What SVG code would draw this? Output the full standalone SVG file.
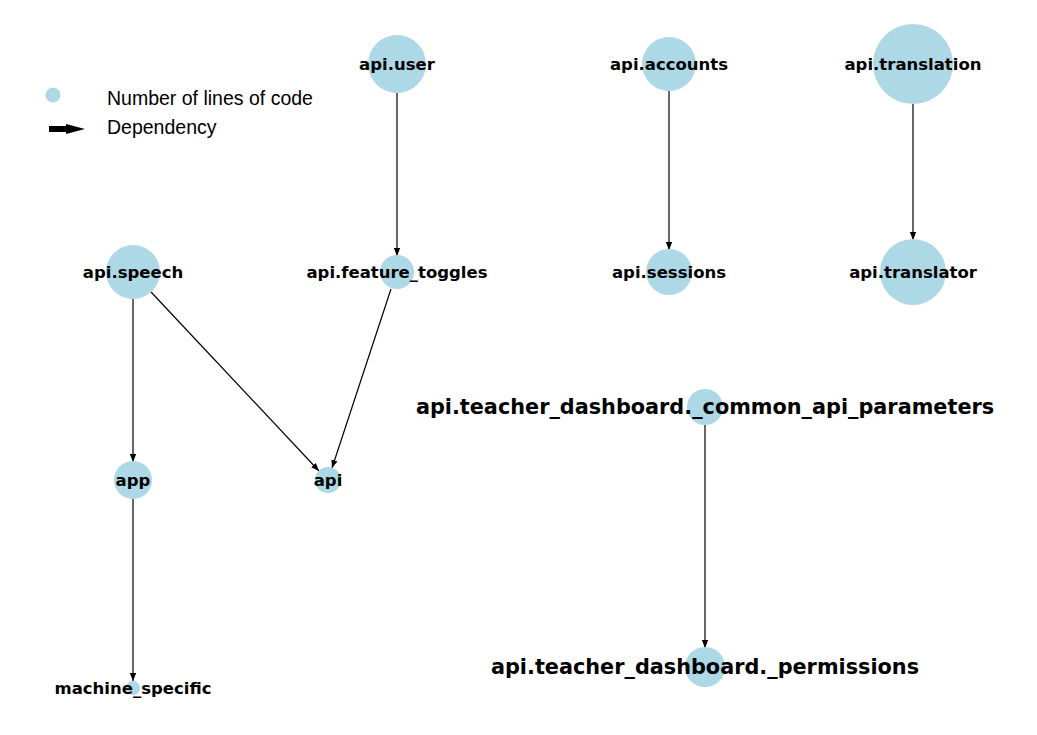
<svg xmlns="http://www.w3.org/2000/svg" width="1037" height="735" viewBox="0 0 1037 735">
<style>
.n{fill:#add8e6}
.t{font-family:"DejaVu Sans",sans-serif;font-weight:bold;font-size:16.5px;text-anchor:middle;fill:#000}
.T{font-family:"DejaVu Sans",sans-serif;font-weight:bold;font-size:20.8px;text-anchor:middle;fill:#000}
.e{stroke:#000;stroke-width:1.2;fill:none;marker-end:url(#ah)}
.lg{font-family:"Liberation Sans",Arial,sans-serif;font-size:19.5px;fill:#000}
</style>
<defs>
<marker id="ah" viewBox="0 0 10 8" refX="10" refY="4" markerWidth="8" markerHeight="6.4" markerUnits="userSpaceOnUse" orient="auto">
<path d="M0,0 L10,4 L0,8 Z" fill="#000"/>
</marker>
</defs>
<rect width="1037" height="735" fill="#fff"/>
<g id="legend">
<circle cx="53" cy="95" r="7.5" class="n"/>
<text x="107" y="105" class="lg">Number of lines of code</text>
<path d="M49,129 L70,129" stroke="#000" stroke-width="6"/>
<path d="M66,124 L85,129 L66,134 Z" fill="#000"/>
<text x="107" y="134" class="lg">Dependency</text>
</g>
<g id="edges">
<line x1="397" y1="93" x2="397" y2="256" class="e"/>
<line x1="669" y1="91" x2="669" y2="250" class="e"/>
<line x1="913" y1="104" x2="913" y2="240" class="e"/>
<line x1="133" y1="299" x2="133" y2="462" class="e"/>
<line x1="151" y1="292" x2="319" y2="471" class="e"/>
<line x1="391" y1="289" x2="332" y2="468" class="e"/>
<line x1="133" y1="499" x2="133" y2="681" class="e"/>
<line x1="705" y1="425" x2="705" y2="648" class="e"/>
</g>
<g id="api.user"><circle cx="397" cy="64" r="29" class="n"/><text x="397" y="70" class="t">api.user</text></g>
<g id="api.accounts"><circle cx="669" cy="64" r="27" class="n"/><text x="669" y="70" class="t">api.accounts</text></g>
<g id="api.translation"><circle cx="913" cy="64" r="40" class="n"/><text x="913" y="70" class="t">api.translation</text></g>
<g id="api.speech"><circle cx="133" cy="272" r="27" class="n"/><text x="133" y="278" class="t">api.speech</text></g>
<g id="api.feature_toggles"><circle cx="397" cy="272" r="17" class="n"/><text x="397" y="278" class="t">api.feature_toggles</text></g>
<g id="api.sessions"><circle cx="669" cy="272" r="23" class="n"/><text x="669" y="278" class="t">api.sessions</text></g>
<g id="api.translator"><circle cx="913" cy="272" r="33" class="n"/><text x="913" y="278" class="t">api.translator</text></g>
<g id="api.teacher_dashboard._common_api_parameters"><circle cx="705" cy="407" r="18" class="n"/><text x="705" y="414" class="T">api.teacher_dashboard._common_api_parameters</text></g>
<g id="app"><circle cx="133" cy="480" r="19" class="n"/><text x="133" y="486" class="t">app</text></g>
<g id="api"><circle cx="328" cy="480" r="13" class="n"/><text x="328" y="486" class="t">api</text></g>
<g id="machine_specific"><circle cx="133" cy="688" r="7" class="n"/><text x="133" y="694" class="t">machine_specific</text></g>
<g id="api.teacher_dashboard._permissions"><circle cx="705" cy="667" r="20" class="n"/><text x="705" y="674" class="T">api.teacher_dashboard._permissions</text></g>
</svg>
